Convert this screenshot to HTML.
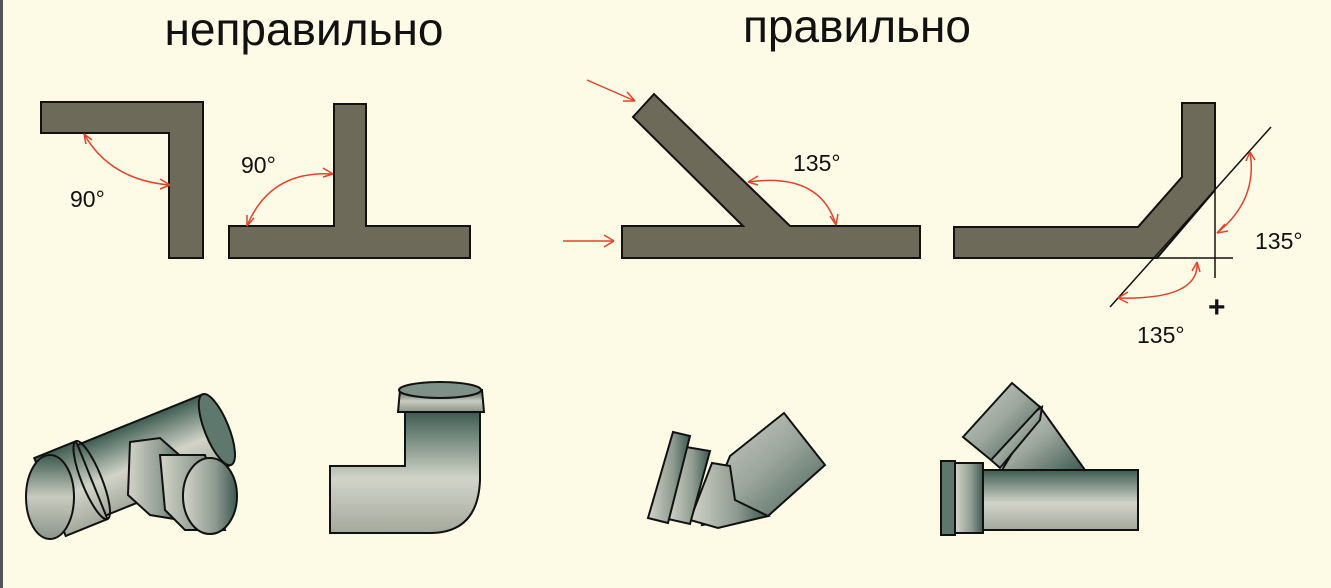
<!DOCTYPE html>
<html><head><meta charset="utf-8"><style>
html,body{margin:0;padding:0;background:#fdfae6;}
svg{display:block;}
</style></head><body>
<svg width="1331" height="588" viewBox="0 0 1331 588" xmlns="http://www.w3.org/2000/svg">
<defs>
<linearGradient id="gv" x1="0" y1="0" x2="0" y2="1">
<stop offset="0" stop-color="#3f5a50"/><stop offset="0.5" stop-color="#c9cbbf"/><stop offset="1" stop-color="#8c958a"/></linearGradient>
<linearGradient id="gh" x1="0" y1="0" x2="1" y2="0">
<stop offset="0" stop-color="#d3d4c8"/><stop offset="0.6" stop-color="#8e9a90"/><stop offset="1" stop-color="#3c5850"/></linearGradient>
<linearGradient id="gd" x1="0" y1="0" x2="1" y2="1">
<stop offset="0" stop-color="#d5d6cb"/><stop offset="0.5" stop-color="#9aa59b"/><stop offset="1" stop-color="#3d5a52"/></linearGradient>
<linearGradient id="gm" x1="0" y1="0" x2="0" y2="1">
<stop offset="0" stop-color="#3e5c52"/><stop offset="0.55" stop-color="#d2d4c8"/><stop offset="1" stop-color="#a4a99c"/></linearGradient>
</defs>
<rect x="0" y="0" width="1331" height="588" fill="#fdfae6"/>
<rect x="0" y="0" width="3" height="588" fill="#555"/>
<g font-family="Liberation Sans, sans-serif" fill="#111">
<text x="304" y="45" font-size="46" text-anchor="middle">неправильно</text>
<text x="857" y="42" font-size="46" text-anchor="middle">правильно</text>
</g>
<g fill="#6e6a5a" stroke="#111" stroke-width="2">
<polygon points="41,102 203,102 203,258 169,258 169,133 41,133"/>
<polygon points="334,104 366,104 366,226 470,226 470,258 229,258 229,226 334,226"/>
<polygon points="622,226 743,226 633,117 654,94 790,226 920,226 920,258 622,258"/>
<polygon points="954,227 1138,227 1182,177 1182,103 1215,103 1215,190 1157,258 954,258"/>
</g>
<g stroke="#111" stroke-width="1.5" fill="none">
<line x1="1110" y1="307" x2="1271" y2="127"/>
<line x1="1215" y1="190" x2="1215" y2="278"/>
<line x1="1157" y1="258" x2="1233" y2="258"/>
</g>
<g stroke="#e0442a" stroke-width="1.5" fill="none">
<path d="M84,134 Q110,180 170,185"/><path d="M84,134 l2,10 M84,134 l8,6"/><path d="M170,185 l-10,-6 M170,185 l-10,4"/>
<path d="M333,174 Q270,170 247,226"/><path d="M333,174 l-10,-6 M333,174 l-10,3"/><path d="M247,226 l0,-11 M247,226 l7,-8"/>
<path d="M748,182 Q820,172 836,225"/><path d="M748,182 l10,-6 M748,182 l10,3"/><path d="M836,225 l-6,-9 M836,225 l2,-11"/>
<path d="M587,80 L635,101"/><path d="M635,101 l-8,-9 M635,101 l-12,0"/>
<path d="M563,241 L614,241"/><path d="M614,241 l-10,-6 M614,241 l-10,6"/>
<path d="M1250,152 Q1258,200 1217,233"/><path d="M1250,152 l-4,9 M1250,152 l5,8"/><path d="M1217,233 l8,-9 M1217,233 l11,-2"/>
<path d="M1197,262 Q1200,300 1118,298"/><path d="M1197,262 l-5,9 M1197,262 l3,10"/><path d="M1118,298 l10,-6 M1118,298 l10,5"/>
</g>
<g font-family="Liberation Sans, sans-serif" font-size="23" fill="#111">
<text x="70" y="207">90°</text>
<text x="241" y="173">90°</text>
<text x="793" y="171">135°</text>
<text x="1255" y="249">135°</text>
<text x="1137" y="343">135°</text>
<text x="1208" y="317" font-size="30" font-weight="bold">+</text>
</g>
<!-- tee left -->
<g stroke="#111" stroke-width="2">
<g transform="translate(50,497) rotate(-22)">
<rect x="20" y="-38" width="160" height="76" fill="url(#gm)"/>
<ellipse cx="180" cy="0" rx="12" ry="38" fill="#5f786d"/>
<rect x="0" y="-42" width="45" height="84" fill="url(#gm)"/>
<ellipse cx="45" cy="0" rx="10" ry="42" fill="none"/>
</g>
<ellipse cx="50" cy="497" rx="24" ry="42" fill="url(#gv)"/>
<polygon points="130,442 160,438 185,460 180,520 150,515 128,495" fill="url(#gh)"/>
<polygon points="160,455 205,455 225,530 185,530 165,510" fill="url(#gh)"/>
<ellipse cx="210" cy="496" rx="27" ry="38" fill="url(#gh)"/>
</g>
<!-- elbow 90 -->
<g stroke="#111" stroke-width="2">
<path d="M405,412 L480,412 L480,480 Q478,533 430,533 L330,533 L330,466 L405,466 Z" fill="url(#gm)"/>
<path d="M398,412 L400,390 L482,390 L484,412 Z" fill="url(#gv)"/>
<ellipse cx="440" cy="390" rx="41" ry="8" fill="#7e9088"/>
</g>
<!-- elbow 45 -->
<g stroke="#111" stroke-width="2">
<polygon points="730,456 784,413 825,465 768,516 702,525" fill="url(#gd)"/>
<polygon points="712,463 730,466 735,500 768,516 718,528 690,520" fill="url(#gh)"/>
<polygon points="686,447 710,451 690,524 668,519" fill="url(#gh)"/>
<polygon points="673,432 690,436 668,523 648,518" fill="url(#gh)"/>
</g>
<!-- Y tee -->
<g stroke="#111" stroke-width="2">
<polygon points="1002,470 1040,407 1085,470" fill="url(#gd)"/>
<polygon points="991,460 1015,425 1042,407 1040,420 1000,468" fill="url(#gd)"/>
<polygon points="963,437 1012,383 1040,407 991,460" fill="url(#gd)"/>
<rect x="983" y="470" width="155" height="60" fill="url(#gm)"/>
<rect x="955" y="463" width="28" height="70" fill="url(#gh)"/>
<rect x="941" y="461" width="14" height="74" fill="#5d776c"/>
</g>
</svg>
</body></html>
